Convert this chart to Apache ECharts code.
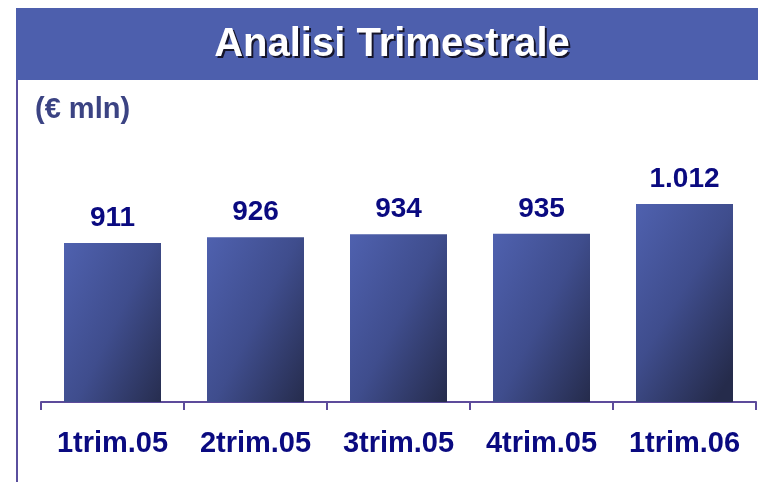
<!DOCTYPE html>
<html><head><meta charset="utf-8">
<script src="https://cdn.jsdelivr.net/npm/echarts@6/dist/echarts.min.js"></script>
<style>html,body{margin:0;padding:0;background:#fff}#c{width:758px;height:482px}</style>
</head><body><div id="c"></div>
<script>
var categories = ['1trim.05', '2trim.05', '3trim.05', '4trim.05', '1trim.06'];
var values = [911, 926, 934, 935, 1012];
var valueLabels = ['911', '926', '934', '935', '1.012'];
var titleText = 'Analisi Trimestrale';
var unitText = '(€ mln)';

var chart = echarts.init(document.getElementById('c'), null, {renderer: 'canvas'});
var font = '"Liberation Sans", Arial, sans-serif';
var grad = new echarts.graphic.LinearGradient(0, 0, 1.5, 0.45, [
  {offset: 0, color: '#4F61AF'}, {offset: 0.5, color: '#3F4D8D'}, {offset: 1, color: '#252B4B'}]);
chart.setOption({
  animation: false,
  graphic: [
    {type: 'rect', shape: {x: 16, y: 8, width: 742, height: 72}, style: {fill: '#4D5FAD'}, z: 0},
    {type: 'text', x: 394, y: 47, z: 1, style: {text: titleText, font: 'bold 40px ' + font, fill: '#15152a', textAlign: 'center', textVerticalAlign: 'middle'}},
    {type: 'text', x: 392, y: 45, z: 2, style: {text: titleText, font: 'bold 40px ' + font, fill: '#ffffff', textAlign: 'center', textVerticalAlign: 'middle'}},
    {type: 'line', shape: {x1: 17, y1: 80, x2: 17, y2: 482}, style: {stroke: '#5A4F9E', lineWidth: 2}},
    {type: 'text', x: 35, y: 95, style: {text: unitText, font: 'bold 29px ' + font, fill: '#3B4383'}}
  ],
  grid: {left: 41, right: 2, top: 170, bottom: 80, containLabel: false},
  xAxis: {
    type: 'category', data: categories, boundaryGap: true,
    axisLine: {lineStyle: {color: '#5D4B9B', width: 2}},
    axisTick: {show: true, interval: 0, length: 8, lineStyle: {color: '#5D4B9B', width: 2}},
    axisLabel: {interval: 0, hideOverlap: false, color: '#0A0A80', fontSize: 29, fontWeight: 'bold', fontFamily: font, margin: 27}
  },
  yAxis: {type: 'value', min: 500, max: 1100, show: false, splitLine: {show: false}},
  series: [{
    type: 'bar', barWidth: 97,
    data: values,
    itemStyle: {color: grad},
    label: {show: true, position: 'top', distance: 11, color: '#0A0A80', fontSize: 28, fontWeight: 'bold', fontFamily: font,
      formatter: function (p) { return valueLabels[p.dataIndex]; }}
  }]
});
</script></body></html>
